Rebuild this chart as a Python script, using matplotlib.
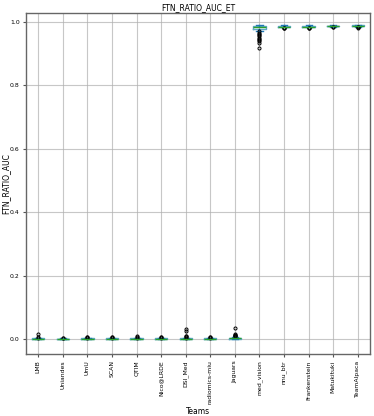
import numpy as np
import matplotlib.pyplot as plt

teams = ['LMB', 'Uniandes', 'UmU', 'SCAN', 'QTIM', 'Nico@LRDE', 'DSI_Med',
         'radiomics-miu', 'Jaguars', 'med_vision', 'nnu_btr', 'Frankenstein',
         'Matukituki', 'TeamAlpaca']

medians = [0.001, 0.0005, 0.001, 0.001, 0.001, 0.001, 0.001, 0.001, 0.002,
           0.983, 0.985, 0.985, 0.987, 0.988]
q1 = [0.0, 0.0, 0.0, 0.0, 0.0, 0.0, 0.0, 0.0, 0.0005,
      0.977, 0.984, 0.984, 0.986, 0.987]
q3 = [0.002, 0.001, 0.002, 0.002, 0.002, 0.002, 0.002, 0.002, 0.004,
      0.987, 0.987, 0.987, 0.988, 0.989]
whislo = [0.0, 0.0, 0.0, 0.0, 0.0, 0.0, 0.0, 0.0, 0.0,
          0.972, 0.982, 0.982, 0.985, 0.985]
whishi = [0.004, 0.002, 0.004, 0.004, 0.004, 0.004, 0.004, 0.004, 0.008,
          0.989, 0.989, 0.989, 0.989, 0.990]
fliers = [
    [0.005, 0.007, 0.017],
    [0.003, 0.004],
    [0.005, 0.006, 0.007],
    [0.005, 0.006, 0.008],
    [0.005, 0.007, 0.009],
    [0.005, 0.006, 0.007],
    [0.005, 0.007, 0.009, 0.011, 0.026, 0.031],
    [0.005, 0.006, 0.008],
    [0.009, 0.010, 0.011, 0.012, 0.013, 0.015, 0.034],
    [0.970, 0.966, 0.962, 0.958, 0.954, 0.950, 0.946, 0.942, 0.938, 0.934, 0.918],
    [0.981, 0.980, 0.979],
    [0.981, 0.980, 0.979],
    [0.984, 0.983],
    [0.984, 0.983, 0.982, 0.981],
]

stats = []
for i, t in enumerate(teams):
    stats.append({'label': t, 'med': medians[i], 'q1': q1[i], 'q3': q3[i],
                  'whislo': whislo[i], 'whishi': whishi[i], 'fliers': fliers[i]})

fig = plt.figure(figsize=(3.74, 4.16), dpi=100)
ax = fig.add_axes([0.0695, 0.149, 0.92, 0.82])

ax.bxp(stats, widths=0.5, patch_artist=False,
       boxprops=dict(color='#5fa8c8', linewidth=1),
       whiskerprops=dict(color='#1f77b4', linewidth=1),
       capprops=dict(color='#1f77b4', linewidth=1),
       medianprops=dict(color='#2ca02c', linewidth=1),
       flierprops=dict(marker='o', markersize=2.2, markeredgecolor='black',
                       markerfacecolor='none', markeredgewidth=0.7))

ax.grid(True, color='#b0b0b0', linewidth=0.8, alpha=0.7)
ax.set_axisbelow(True)
ax.set_ylim(-0.047, 1.028)
ax.set_yticks([0.0, 0.2, 0.4, 0.6, 0.8, 1.0])
ax.tick_params(axis='both', labelsize=4.4, length=2.5, pad=2, color='#555555')
ax.tick_params(axis='x', labelrotation=90)
for s in ax.spines.values():
    s.set_color('#666666')
    s.set_linewidth(1.0)

ax.set_title('FTN_RATIO_AUC_ET', fontsize=5.5, pad=2)
ax.set_ylabel('FTN_RATIO_AUC', fontsize=5.5)
ax.set_xlabel('Teams', fontsize=5.5)
ax.yaxis.set_label_coords(-0.058, 0.5)
ax.xaxis.set_label_coords(0.5, -0.168)
ax.xaxis.label.set_va('center')
ax.yaxis.label.set_va('center')

fig.savefig('out.png', dpi=100)
